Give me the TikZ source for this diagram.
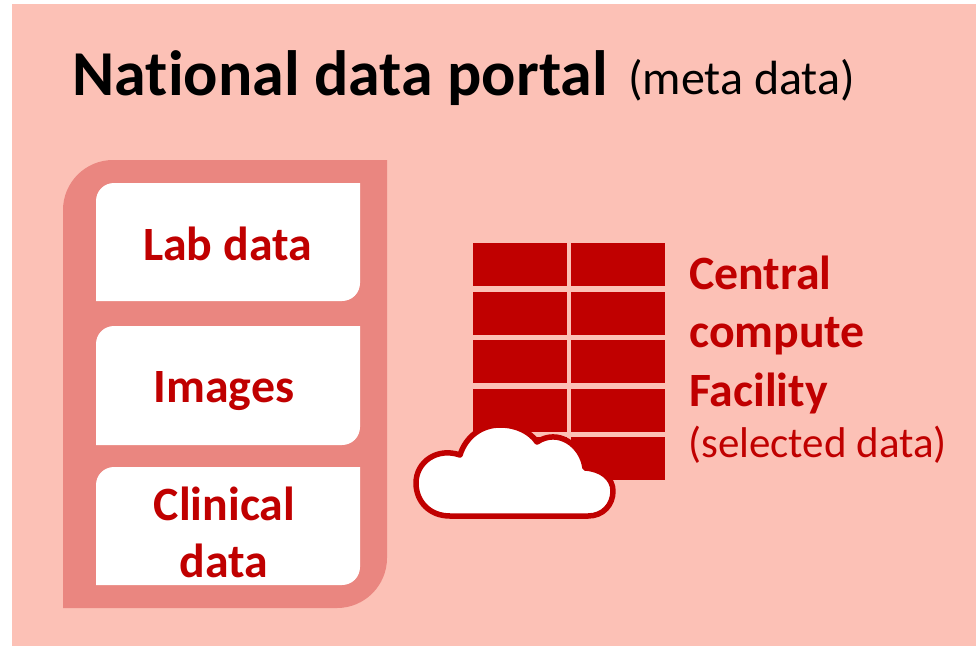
\documentclass[tikz,border=0pt]{standalone}
\usepackage{fontspec}
\setmainfont{Carlito}[Ligatures=NoCommon]
\definecolor{bgpink}{HTML}{FCC1B6}
\definecolor{panelred}{HTML}{EA8680}
\definecolor{darkred}{HTML}{C00000}
\tikzset{
  lab/.style={text=darkred,font=\bfseries\fontsize{47.8}{47.8}\selectfont,align=center,inner sep=0pt},
  sidelab/.style={text=darkred,anchor=base west,inner sep=0pt,font=\bfseries\fontsize{47.8}{47.8}\selectfont},
}
\begin{document}
\begin{tikzpicture}[x=1pt,y=-1pt]
\useasboundingbox (0,0) rectangle (976,646);
\fill[white] (0,0) rectangle (976,646);
\fill[bgpink] (12,4) rectangle (976,646);
\node[anchor=base west,inner sep=0pt,font=\bfseries\fontsize{64}{64}\selectfont] (title) at (72.5,95) {National data portal};
\node[anchor=base west,inner sep=0pt,font=\fontsize{48}{48}\selectfont] (meta) at (628,94) {(meta data)};
% panel
\fill[panelred] (63,608) -- (63,210) .. controls (63,182.4) and (85.4,160) .. (113,160) -- (387,160) -- (387,558) .. controls (387,585.6) and (364.6,608) .. (337,608) -- cycle;
\foreach \t/\b in {183/301,326/445,467/585}{
  \fill[white] (96,\b) -- (96,\t+18) .. controls (96,\t+8) and (104,\t) .. (114,\t) -- (360,\t) -- (360,\b-18) .. controls (360,\b-8) and (352,\b) .. (342,\b) -- cycle;
}
\node[lab,anchor=base] (labdata) at (227.5,260) {Lab data};
\node[lab,anchor=base] (images) at (224,402) {Images};
\node[lab,anchor=base] (clinical) at (224.5,520.5) {Clinical};
\node[lab,anchor=base] (cdata) at (224,577) {data};
% grid
\foreach \t/\b in {243/286,292/335,340/383,389/432,437/480}{
  \fill[darkred] (473,\t) rectangle (567,\b);
  \fill[darkred] (571,\t) rectangle (665,\b);
}
% cloud
\draw[darkred,line width=5.5pt,fill=white,line join=round] (450,516)
  .. controls (430,516) and (416,502) .. (416,483)
  .. controls (416,462) and (437,447) .. (460,455)
  .. controls (466,436) and (482,425) .. (500,425)
  .. controls (517,425) and (530,432) .. (537,442)
  .. controls (558,428) and (582,445) .. (585,468)
  .. controls (601,469) and (613,478) .. (613,491)
  .. controls (613,505) and (603,516) .. (588,516)
  -- cycle;
% side labels
\node[sidelab] (central) at (689,289) {Central};
\node[sidelab] (compute) at (689,347.5) {compute};
\node[sidelab] (facility) at (689,406) {Facility};
\node[anchor=base west,inner sep=0pt,text=darkred,font=\fontsize{43}{43}\selectfont] (selected) at (688,457.5) {(selected data)};
\end{tikzpicture}
\end{document}
